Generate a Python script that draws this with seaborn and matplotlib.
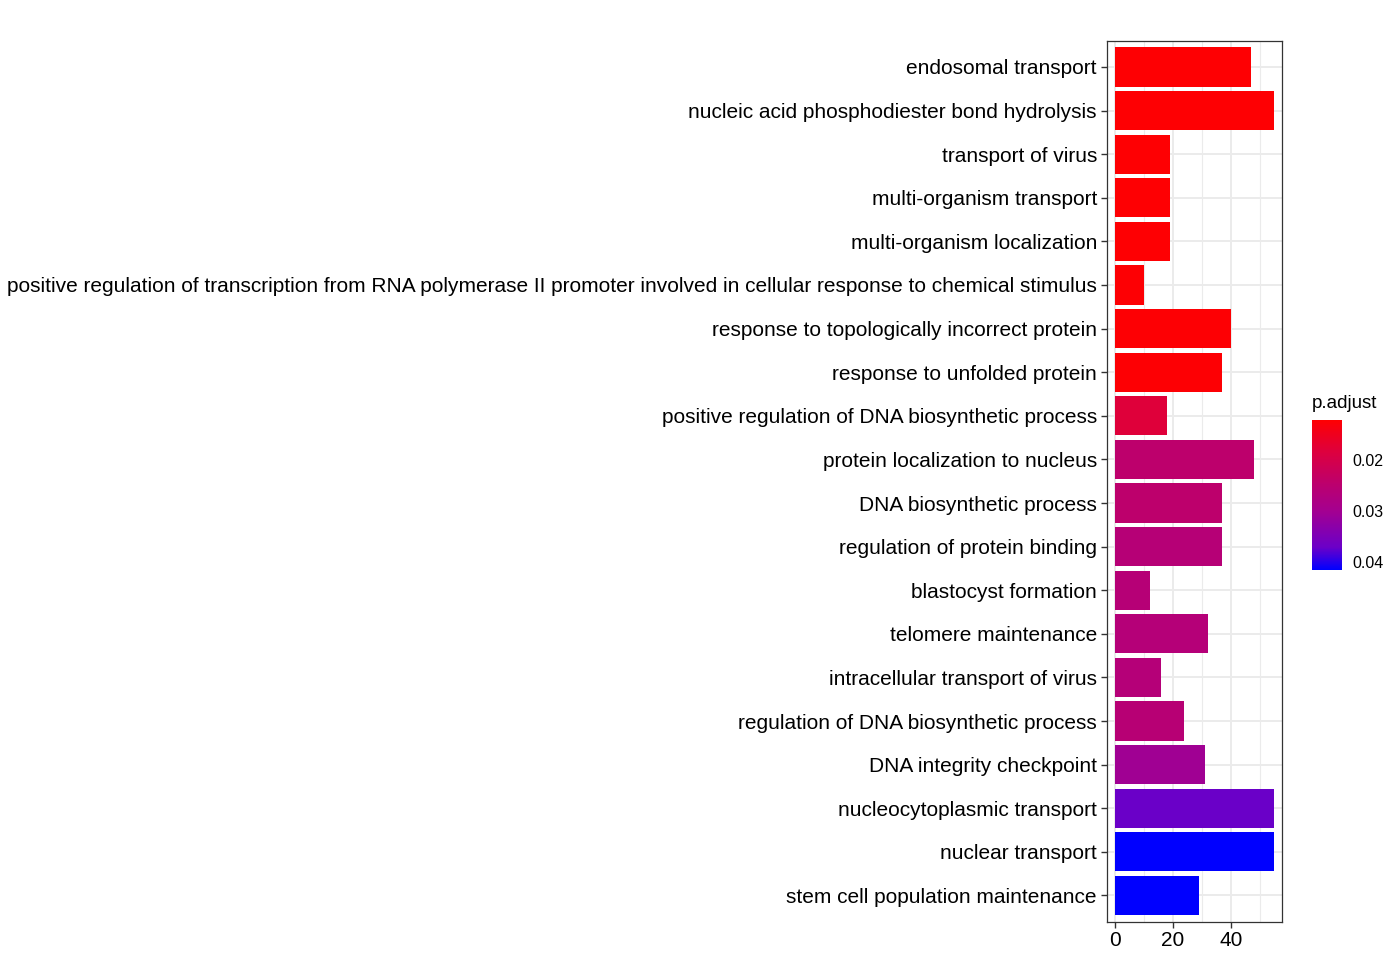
import matplotlib
matplotlib.use("Agg")
import matplotlib.pyplot as plt
import matplotlib.colors as mcolors
import pandas as pd
import seaborn as sns

terms = [
    "endosomal transport",
    "nucleic acid phosphodiester bond hydrolysis",
    "transport of virus",
    "multi-organism transport",
    "multi-organism localization",
    "positive regulation of transcription from RNA polymerase II promoter involved in cellular response to chemical stimulus",
    "response to topologically incorrect protein",
    "response to unfolded protein",
    "positive regulation of DNA biosynthetic process",
    "protein localization to nucleus",
    "DNA biosynthetic process",
    "regulation of protein binding",
    "blastocyst formation",
    "telomere maintenance",
    "intracellular transport of virus",
    "regulation of DNA biosynthetic process",
    "DNA integrity checkpoint",
    "nucleocytoplasmic transport",
    "nuclear transport",
    "stem cell population maintenance",
]
counts = [47, 55, 19, 19, 19, 10, 40, 37, 18, 48, 37, 37, 12, 32, 16, 24, 31, 55, 55, 29]
p_adjust = [0.0121, 0.0121, 0.0122, 0.0122, 0.0122, 0.0123, 0.0123, 0.0123, 0.0180, 0.0245,
            0.0245, 0.0260, 0.0260, 0.0263, 0.0263, 0.0257, 0.0304, 0.0372, 0.0416, 0.0416]
colorbar_ticks = [0.02, 0.03, 0.04]
x_ticks = [0, 20, 40]

# red -> blue gradient, stops picked off the reference colour bar
cmap = mcolors.LinearSegmentedColormap.from_list(
    "padjust",
    [(0.0, "#FE0003"), (0.22, "#DC0040"), (0.42, "#BD006C"), (0.6, "#A5008F"), (0.85, "#6B00C8"), (1.0, "#0000FF")],
)
norm = mcolors.Normalize(vmin=min(p_adjust), vmax=max(p_adjust))

data = pd.DataFrame({"term": terms, "count": counts, "p_adjust": p_adjust})

sns.set_theme(style="white")
plt.rcParams["font.family"] = ["Liberation Sans", "DejaVu Sans"]
plt.rcParams["text.color"] = "black"

fig = plt.figure(figsize=(14, 9.6), dpi=100)
ax = fig.add_axes([0.7905, 0.040, 0.1255, 0.9175])

sns.barplot(
    data=data, x="count", y="term", hue="p_adjust", palette=cmap, hue_norm=norm,
    dodge=False, width=0.9, saturation=1, legend=False, linewidth=0, ax=ax, zorder=3,
)

ax.set_xlim(-2.75, 57.75)
ax.set_ylim(len(terms) - 0.4, -0.6)
ax.set_xticks(x_ticks)
ax.set_xticks([10, 30, 50], minor=True)
ax.grid(True, which="major", color="#EBEBEB", linewidth=1.4, zorder=0)
ax.grid(True, which="minor", axis="x", color="#EBEBEB", linewidth=0.8, zorder=0)
ax.set_axisbelow(True)
ax.set_xlabel("")
ax.set_ylabel("")
ax.tick_params(axis="both", which="major", length=4, width=1, color="#333333", labelsize=15,
               labelcolor="black", pad=3, left=True, bottom=True)
ax.tick_params(axis="x", which="minor", length=0)
for spine in ax.spines.values():
    spine.set_color("#333333")
    spine.set_linewidth(0.9)

cax = fig.add_axes([0.9369, 0.40625, 0.0214, 0.15625])
sm = plt.cm.ScalarMappable(cmap=cmap, norm=norm)
cbar = fig.colorbar(sm, cax=cax)
cbar.outline.set_visible(False)
cax.invert_yaxis()
cbar.set_ticks(colorbar_ticks)
cbar.set_ticklabels([f"{t:.2f}" for t in colorbar_ticks])
cax.tick_params(axis="y", direction="in", color="white", length=5, width=0.8,
                left=True, right=True, labelsize=11.5, labelcolor="black", pad=8)
fig.text(0.9369, 0.571, "p.adjust", fontsize=13.5, color="black", ha="left", va="bottom")

fig.savefig("out.png", dpi=100)
